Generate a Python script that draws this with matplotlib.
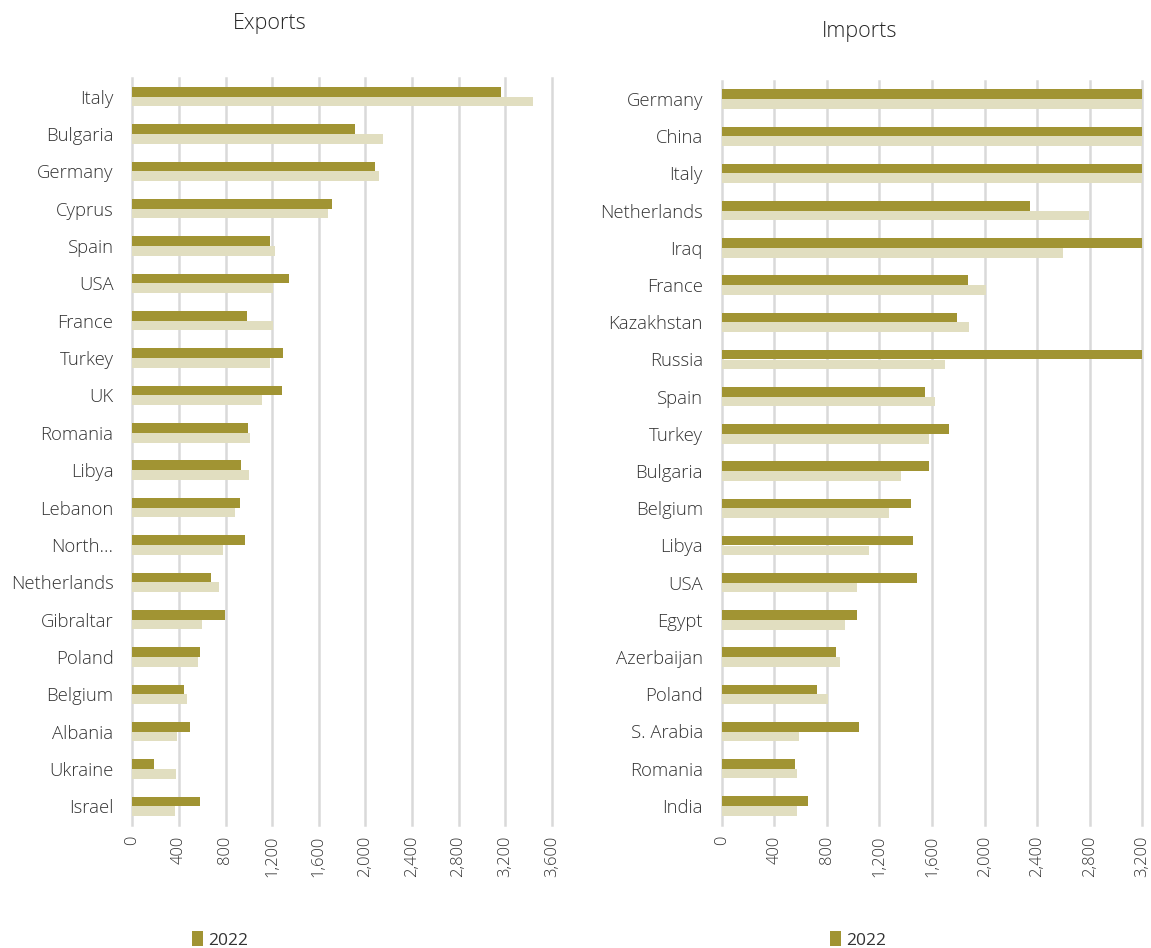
import matplotlib
matplotlib.use("Agg")
import matplotlib.pyplot as plt
from matplotlib.patches import Patch
import numpy as np

plt.rcParams['font.family'] = ['Open Sans', 'DejaVu Sans']

exp_countries = ["Italy", "Bulgaria", "Germany", "Cyprus", "Spain", "USA", "France", "Turkey",
                 "UK", "Romania", "Libya", "Lebanon", "North...", "Netherlands", "Gibraltar",
                 "Poland", "Belgium", "Albania", "Ukraine", "Israel"]
exp_2022 = [3168, 1913, 2079, 1713, 1181, 1341, 981, 1290, 1281, 995, 932, 926, 967, 675, 798,
            581, 441, 492, 184, 581]
exp_prev = [3443, 2153, 2118, 1678, 1224, 1204, 1204, 1181, 1110, 1012, 1001, 881, 778, 741, 595,
            561, 469, 386, 372, 366]

imp_countries = ["Germany", "China", "Italy", "Netherlands", "Iraq", "France", "Kazakhstan",
                 "Russia", "Spain", "Turkey", "Bulgaria", "Belgium", "Libya", "USA", "Egypt",
                 "Azerbaijan", "Poland", "S. Arabia", "Romania", "India"]
imp_2022 = [4300, 4100, 3700, 2346, 3400, 1873, 1792, 3500, 1544, 1731, 1574, 1442, 1452, 1483,
            1027, 869, 727, 1042, 555, 656]
imp_prev = [4500, 4200, 3800, 2795, 2593, 2010, 1878, 1698, 1624, 1579, 1366, 1275, 1118, 1027,
            940, 900, 808, 590, 570, 570]

exp_ticks = [0, 400, 800, 1200, 1600, 2000, 2400, 2800, 3200, 3600]
imp_ticks = [0, 400, 800, 1200, 1600, 2000, 2400, 2800, 3200]

DARK = "#A19433"
LIGHT = "#E1DEC0"
GRID = "#D9D9D9"
TXT = "#333333"

W, H = 1151, 948
fig = plt.figure(figsize=(W / 100, H / 100), dpi=100)

def px_axes(x0, y0, x1, y1):
    return fig.add_axes([x0 / W, 1 - y1 / H, (x1 - x0) / W, (y1 - y0) / H])

def draw(ax, cats, v22, vprev, ticks, xmax):
    n = len(cats)
    y = np.arange(n)
    h = 0.26
    ax.barh(y - h / 2, v22, height=h, color=DARK, zorder=3)
    ax.barh(y + h / 2, vprev, height=h, color=LIGHT, zorder=3)
    ax.set_xlim(0, xmax)
    ax.set_ylim(n - 0.5, -0.5)
    ax.set_yticks(y)
    ax.set_yticklabels(cats, fontsize=13.3, color=TXT, fontweight='light')
    ax.set_xticks(ticks)
    ax.set_xticklabels([f"{t:,}" for t in ticks], rotation=90, fontsize=12, color=TXT,
                       fontweight='light')
    ax.tick_params(axis='both', length=0, pad=8)
    ax.tick_params(axis='y', pad=13.5)
    ax.grid(axis='x', color=GRID, linewidth=1.8, zorder=0)
    ax.set_axisbelow(True)
    for gl in ax.get_xgridlines():
        gl.set_clip_on(False)
    for s in ax.spines.values():
        s.set_visible(False)

ax1 = px_axes(132.3, 78, 551.7, 825)
draw(ax1, exp_countries, exp_2022, exp_prev, exp_ticks, 3600)

ax2 = px_axes(721.7, 80.5, 1142.3, 824.5)
draw(ax2, imp_countries, imp_2022, imp_prev, imp_ticks, 3200)

fig.text(270 / W, 1 - 23 / H, "Exports", ha='center', va='center', fontsize=15.5, color="#262626",
         fontweight='light')
fig.text(860 / W, 1 - 31 / H, "Imports", ha='center', va='center', fontsize=15.5, color="#262626",
         fontweight='light')

for xc in (220, 858):
    fig.legend(handles=[Patch(facecolor=DARK, label="2022")], loc='center',
               bbox_to_anchor=(xc / W, 1 - 940 / H), frameon=False, fontsize=12.5,
               handlelength=0.6, handleheight=0.9, handletextpad=0.3, borderpad=0,
               labelcolor=TXT)

fig.savefig("out.png", dpi=100)
